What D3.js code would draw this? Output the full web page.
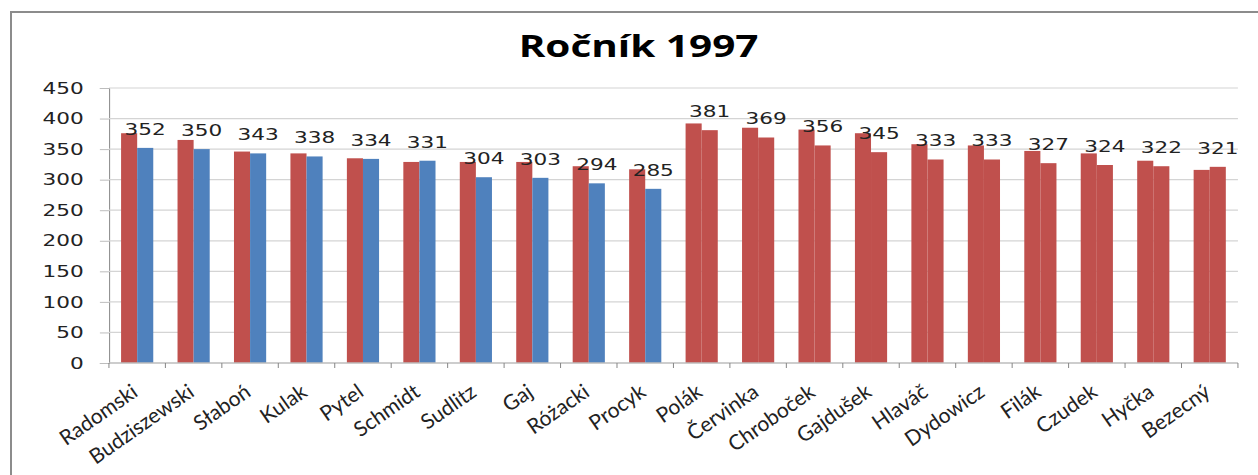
<!DOCTYPE html>
<html>
<head>
<meta charset="utf-8">
<script src="https://cdn.jsdelivr.net/npm/d3@7"></script>
<style>
  html, body { margin: 0; padding: 0; background: #fff; }
  svg { display: block; }
</style>
</head>
<body>
<svg id="chart"></svg>
<script>
// data
const names = ["Radomski", "Budziszewski", "Słaboń", "Kulak", "Pytel", "Schmidt", "Sudlitz", "Gaj", "Różacki", "Procyk",
               "Polák", "Červinka", "Chroboček", "Gajdušek", "Hlaváč", "Dydowicz", "Filák", "Czudek", "Hyčka", "Bezecný"];
const firstValues = [376, 365, 346, 343, 335, 329, 329, 329, 322, 317,
                     392, 385, 382, 376, 358, 356, 347, 343, 331, 316];
const secondValues = [352, 350, 343, 338, 334, 331, 304, 303, 294, 285,
                      381, 369, 356, 345, 333, 333, 327, 324, 322, 321];
const yTicks = [0, 50, 100, 150, 200, 250, 300, 350, 400, 450];
const title = "Ročník 1997";

// the picture is an Excel chart stretched sideways: draw the chart in a
// narrow space inside a scaled group, category labels go in screen space
const W = 1258, H = 475, stretch = 1.35;

const svg = d3.select("#chart")
    .attr("width", W)
    .attr("height", H);

const g = svg.append("g")
    .attr("transform", `scale(${stretch},1)`);

const plot = { left: 80.7, right: 917, top: 88, bottom: 363 };

const red = "#C0504D", blue = "#4F81BD";

// frame
svg.append("rect")
    .attr("x", 11).attr("y", 12)
    .attr("width", W + 20).attr("height", H + 20)
    .attr("fill", "none")
    .attr("stroke", "#8c8c8c")
    .attr("stroke-width", 2);

// title
g.append("text")
    .attr("x", 473).attr("y", 57)
    .attr("text-anchor", "middle")
    .attr("font-family", "'Open Sans', sans-serif")
    .attr("font-weight", 700)
    .attr("font-size", "30px")
    .attr("fill", "#000")
    .text(title);

/* scales */
const x0 = d3.scaleBand()
    .domain(names)
    .range([plot.left, plot.right])
    .paddingInner(0.43)
    .paddingOuter(0.215);

const x1 = d3.scaleBand()
    .domain([0, 1])
    .range([0, x0.bandwidth()]);

const y = d3.scaleLinear()
    .domain([0, 450])
    .range([plot.bottom, plot.top]);

/* gridlines + y axis */
const yAxis = g.append("g")
    .attr("transform", `translate(${plot.left},0)`)
    .call(d3.axisLeft(y).tickValues(yTicks).tickSize(6.7).tickPadding(12));

yAxis.select(".domain").attr("stroke", "#868686").attr("vector-effect", "non-scaling-stroke");
yAxis.selectAll(".tick line").attr("stroke", "#bdbdbd").attr("vector-effect", "non-scaling-stroke");
yAxis.selectAll(".tick text")
    .attr("font-family", "'DejaVu Sans', sans-serif")
    .attr("font-size", "16px")
    .attr("fill", "#222");

g.append("g")
    .selectAll("line")
    .data(yTicks.filter(d => d > 0))
    .enter()
    .append("line")
    .attr("x1", plot.left).attr("x2", plot.right)
    .attr("y1", d => y(d)).attr("y2", d => y(d))
    .attr("stroke", "#d4d4d4")
    .attr("stroke-width", 1.2);

/* bars */
const groups = g.append("g")
    .selectAll("g")
    .data(names)
    .enter()
    .append("g")
    .attr("transform", d => `translate(${x0(d)},0)`);

groups.append("rect")
    .attr("x", x1(0))
    .attr("width", x1.bandwidth())
    .attr("y", (d, i) => y(firstValues[i]))
    .attr("height", (d, i) => y(0) - y(firstValues[i]))
    .attr("fill", red);

groups.append("rect")
    .attr("x", x1(1))
    .attr("width", x1.bandwidth())
    .attr("y", (d, i) => y(secondValues[i]))
    .attr("height", (d, i) => y(0) - y(secondValues[i]))
    .attr("fill", (d, i) => i < 10 ? blue : red);

// labels on the second series
groups.append("text")
    .attr("x", x1(1) + x1.bandwidth() / 2)
    .attr("y", (d, i) => y(secondValues[i]) - 13)
    .attr("text-anchor", "middle")
    .attr("font-family", "'DejaVu Sans', sans-serif")
    .attr("font-size", "16px")
    .attr("fill", "#222")
    .text((d, i) => secondValues[i]);

/* x axis */
const xAxis = g.append("g");

xAxis.append("line")
    .attr("x1", plot.left).attr("x2", plot.right)
    .attr("y1", plot.bottom).attr("y2", plot.bottom)
    .attr("stroke", "#bdbdbd")
    .attr("stroke-width", 1.5);

const step = x0.step();
xAxis.selectAll(".xtick")
    .data(d3.range(names.length + 1))
    .enter()
    .append("line")
    .attr("x1", i => plot.left + i * step)
    .attr("x2", i => plot.left + i * step)
    .attr("y1", plot.bottom)
    .attr("y2", plot.bottom + 5)
    .attr("stroke", "#868686")
    .attr("vector-effect", "non-scaling-stroke");

// category labels, in screen space
svg.append("g")
    .selectAll("text")
    .data(names)
    .enter()
    .append("text")
    .attr("transform", d => `translate(${(x0(d) + x0.bandwidth() / 2) * stretch + 2},${plot.bottom + 32}) rotate(-35)`)
    .attr("text-anchor", "end")
    .attr("font-family", "Lato, sans-serif")
    .attr("font-size", "21px")
    .attr("fill", "#222")
    .text(d => d);
</script>
</body>
</html>
